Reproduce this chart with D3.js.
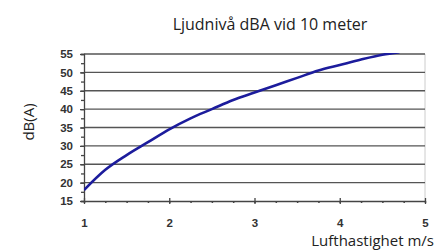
<!DOCTYPE html>
<html>
<head>
<meta charset="utf-8">
<script src="https://cdn.jsdelivr.net/npm/d3@7"></script>
<style>
  body { margin: 0; background: #fff; }
  svg { display: block; }
</style>
</head>
<body>
<div id="chart"></div>
<script>
// curve
const windSpeed = [1, 1.25, 1.5, 1.75, 2, 2.25, 2.5, 2.75, 3, 3.25, 3.5, 3.75, 4, 4.25, 4.5, 4.7];
const soundLevel = [18, 23.5, 27.5, 31, 34.5, 37.5, 40, 42.5, 44.5, 46.5, 48.5, 50.5, 52, 53.5, 54.8, 55.5];
const xTicks = [1, 2, 3, 4, 5];
const yTicks = [15, 20, 25, 30, 35, 40, 45, 50, 55];

const width = 437, height = 251;
const svg = d3.select('#chart').append('svg')
  .attr('width', width)
  .attr('height', height);

// plot area
const plotLeft = 84, plotRight = 425, plotTop = 54, plotBottom = 201;

const x = d3.scaleLinear().domain([1, 5]).range([plotLeft, plotRight]);
const y = d3.scaleLinear().domain([15, 55]).range([plotBottom, plotTop]);

// title
svg.append('text')
  .attr('x', 270).attr('y', 30)
  .attr('text-anchor', 'middle')
  .style('font-family', 'Open Sans')
  .style('font-size', '16px')
  .attr('fill', '#222')
  .text('Ljudnivå dBA vid 10 meter');

// right border
svg.append('line')
  .attr('x1', plotRight).attr('x2', plotRight)
  .attr('y1', plotTop).attr('y2', plotBottom)
  .attr('stroke', '#ccc');

// gridlines
svg.append('g')
  .selectAll('line')
  .data(yTicks.slice(1))
  .join('line')
  .attr('x1', plotLeft).attr('x2', plotRight)
  .attr('y1', d => y(d)).attr('y2', d => y(d))
  .attr('stroke', '#555')
  .attr('stroke-width', 1.4);

// y axis with minor ticks
const yMinor = d3.range(15, 55.1, 2.5);
svg.append('g')
  .attr('transform', `translate(${plotLeft},0)`)
  .call(d3.axisLeft(y).tickValues(yMinor).tickSize(3).tickFormat(''))
  .call(g => g.selectAll('line, path').attr('stroke', '#444').attr('stroke-width', 1.3));

svg.append('g')
  .attr('transform', `translate(${plotLeft},0)`)
  .call(d3.axisLeft(y).tickValues(yTicks).tickSize(4).tickPadding(7))
  .call(g => g.select('.domain').remove())
  .call(g => g.selectAll('line').attr('stroke', '#444').attr('stroke-width', 1.3))
  .call(g => g.selectAll('text')
    .style('font-family', 'Liberation Sans')
    .style('font-size', '11.5px')
    .style('font-weight', 'bold')
    .attr('fill', '#333'));

// x axis with minor ticks
const xMinor = d3.range(1, 5.01, 0.25);
svg.append('g')
  .attr('transform', `translate(0,${plotBottom})`)
  .call(d3.axisBottom(x).tickValues(xMinor).tickSize(2).tickSizeOuter(0).tickFormat(''))
  .call(g => g.selectAll('line, path').attr('stroke', '#444').attr('stroke-width', 1.5));

svg.append('g')
  .attr('transform', `translate(0,${plotBottom - 3})`)
  .call(d3.axisBottom(x).tickValues(xTicks).tickSize(6).tickPadding(15).tickFormat(d3.format('d')))
  .call(g => g.select('.domain').remove())
  .call(g => g.selectAll('line').attr('stroke', '#444').attr('stroke-width', 1.3))
  .call(g => g.selectAll('text')
    .style('font-family', 'Liberation Sans')
    .style('font-size', '11.5px')
    .style('font-weight', 'bold')
    .attr('fill', '#333'));

// clip the curve to the plot
svg.append('clipPath').attr('id', 'plot')
  .append('rect')
  .attr('x', plotLeft).attr('y', plotTop - 1)
  .attr('width', plotRight - plotLeft).attr('height', plotBottom - plotTop + 1);

const line = d3.line()
  .x((d, i) => x(windSpeed[i]))
  .y(d => y(d))
  .curve(d3.curveMonotoneX);

svg.append('path')
  .datum(soundLevel)
  .attr('clip-path', 'url(#plot)')
  .attr('d', line)
  .attr('fill', 'none')
  .attr('stroke', '#1c1c9c')
  .attr('stroke-width', 2.6);

// axis titles
svg.append('text')
  .attr('transform', 'translate(34,122) rotate(-90)')
  .attr('text-anchor', 'middle')
  .style('font-family', 'Open Sans')
  .style('font-size', '15px')
  .attr('fill', '#222')
  .text('dB(A)');

svg.append('text')
  .attr('x', 434).attr('y', 246)
  .attr('text-anchor', 'end')
  .style('font-family', 'Open Sans')
  .style('font-size', '15px')
  .attr('fill', '#222')
  .text('Lufthastighet m/s');
</script>
</body>
</html>
